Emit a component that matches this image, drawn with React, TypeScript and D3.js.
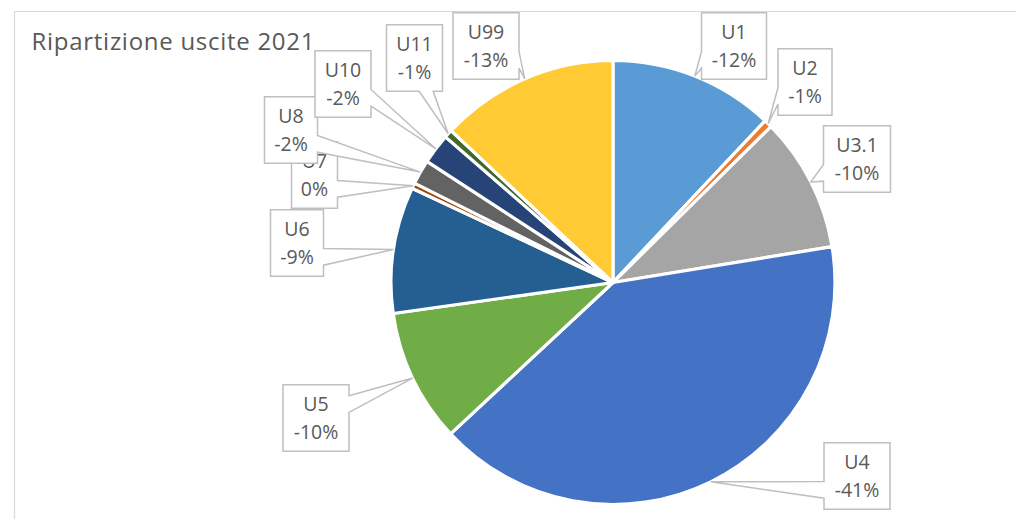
import React from "react";
import * as d3 from "d3";

// ---- data ----
const title = "Ripartizione uscite 2021";
const categories = ["U1", "U2", "U3.1", "U4", "U5", "U6", "U7", "U8", "U10", "U11", "U99"];
const shares = [-12.0, -0.6, -9.8, -40.6, -9.7, -9.2, -0.4, -1.8, -2.2, -0.6, -13.0];
const colors = ["#5B9BD5", "#ED7D31", "#A5A5A5", "#4472C4", "#70AD47", "#255E91", "#9E480E", "#636363", "#264478", "#43682B", "#FFCA33"];

// ---- layout (label callout boxes, manually placed as in the original) ----
const labelBoxes = [
  { cx: 734, cy: 46, w: 65 },
  { cx: 805, cy: 82, w: 54 },
  { cx: 857, cy: 159, w: 67 },
  { cx: 857, cy: 476, w: 66 },
  { cx: 316, cy: 418, w: 66 },
  { cx: 297, cy: 243, w: 53 },
  { cx: 314.5, cy: 175, w: 46 },
  { cx: 291, cy: 130, w: 53 },
  { cx: 343, cy: 84, w: 56 },
  { cx: 414.5, cy: 58, w: 56 },
  { cx: 486, cy: 46, w: 66 },
];

const W = 1016;
const H = 519;
const CX = 613;
const CY = 282.5;
const R = 222;
const BOX_H = 66.5;
const FONT = "'Open Sans', Lato, sans-serif";
const TEXT_COLOR = "#595959";

function calloutPath(x: number, y: number, w: number, h: number, tx: number, ty: number) {
  const hc = x + w / 2;
  const vc = y + h / 2;
  const dx = tx - hc;
  const dy = ty - vc;
  const vertical = Math.abs(dy) * w > Math.abs(dx) * h;
  const p = d3.path();
  p.moveTo(x, y);
  if (vertical) {
    const g1 = dx > 0 ? 7 : 2;
    const g2 = dx > 0 ? 10 : 5;
    const xa = x + (w * g1) / 12;
    const xb = x + (w * g2) / 12;
    if (dy < 0) {
      p.lineTo(xa, y);
      p.lineTo(tx, ty);
      p.lineTo(xb, y);
      p.lineTo(x + w, y);
      p.lineTo(x + w, y + h);
      p.lineTo(x, y + h);
    } else {
      p.lineTo(x + w, y);
      p.lineTo(x + w, y + h);
      p.lineTo(xb, y + h);
      p.lineTo(tx, ty);
      p.lineTo(xa, y + h);
      p.lineTo(x, y + h);
    }
  } else {
    const g1 = dy > 0 ? 7 : 2;
    const g2 = dy > 0 ? 10 : 5;
    const ya = y + (h * g1) / 12;
    const yb = y + (h * g2) / 12;
    if (dx > 0) {
      p.lineTo(x + w, y);
      p.lineTo(x + w, ya);
      p.lineTo(tx, ty);
      p.lineTo(x + w, yb);
      p.lineTo(x + w, y + h);
      p.lineTo(x, y + h);
    } else {
      p.lineTo(x + w, y);
      p.lineTo(x + w, y + h);
      p.lineTo(x, y + h);
      p.lineTo(x, yb);
      p.lineTo(tx, ty);
      p.lineTo(x, ya);
    }
  }
  p.closePath();
  return p.toString();
}

export default function App() {
  const pie = d3
    .pie<number>()
    .sort(null)
    .value((d) => Math.abs(d))
    .startAngle(0)
    .endAngle(2 * Math.PI);
  const arcs = pie(shares);
  const arc = d3.arc<d3.PieArcDatum<number>>().innerRadius(0).outerRadius(R);
  const total = d3.sum(shares, (d) => Math.abs(d));
  const fmt = (v: number) => {
    const r = Math.round((v / total) * 100);
    return r === 0 ? "0%" : `${r}%`;
  };

  return (
    <svg
      width={W}
      height={H}
      style={{ position: "absolute", left: 0, top: 0, background: "#fff" }}
      xmlns="http://www.w3.org/2000/svg"
    >
      <rect x={0} y={0} width={W} height={H} fill="#fff" />
      <path d={`M14.5,${H} L14.5,11.5 L${W},11.5`} fill="none" stroke="#D9D9D9" strokeWidth={1.2} />
      <text x={31.5} y={49.5} fontFamily={FONT} fontSize={24} fill={TEXT_COLOR} textLength={283} lengthAdjust="spacing">
        {title}
      </text>
      <g transform={`translate(${CX},${CY})`}>
        {arcs.map((a, i) => (
          <path key={categories[i]} d={arc(a) || ""} fill={colors[i]} stroke="#fff" strokeWidth={3.2} strokeLinejoin="round" />
        ))}
      </g>
      {arcs.map((a, i) => {
        const mid = (a.startAngle + a.endAngle) / 2;
        const tx = CX + R * Math.sin(mid);
        const ty = CY - R * Math.cos(mid);
        const b = labelBoxes[i];
        const x = b.cx - b.w / 2;
        const y = b.cy - BOX_H / 2;
        return (
          <g key={"lbl" + categories[i]}>
            <path d={calloutPath(x, y, b.w, BOX_H, tx, ty)} fill="#fff" stroke="#BFBFBF" strokeWidth={1.5} />
            <text x={b.cx} y={y + 26.5} textAnchor="middle" fontFamily={FONT} fontSize={19.5} fill={TEXT_COLOR}>
              {categories[i]}
            </text>
            <text x={b.cx} y={y + 54.5} textAnchor="middle" fontFamily={FONT} fontSize={19.5} fill={TEXT_COLOR}>
              {fmt(shares[i])}
            </text>
          </g>
        );
      })}
    </svg>
  );
}
